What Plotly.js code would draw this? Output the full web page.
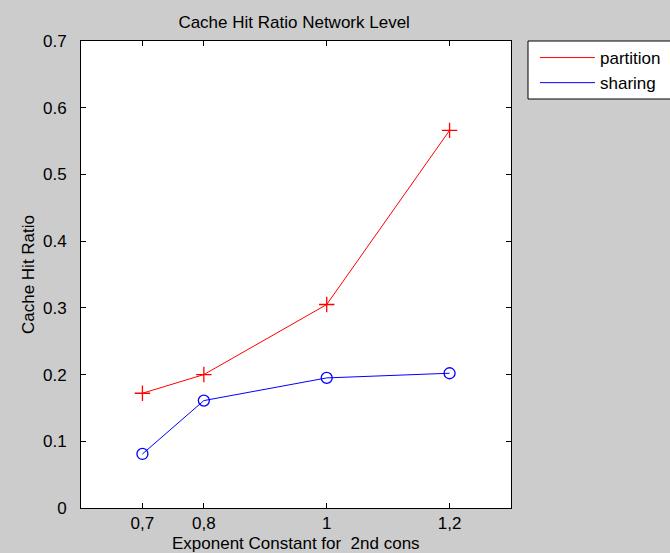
<!DOCTYPE html>
<html>
<head>
<meta charset="utf-8">
<script src="https://cdn.plot.ly/plotly-3.0.1.min.js"></script>
<style>html,body{margin:0;padding:0;background:#cccccc;overflow:hidden;}#chart{width:670px;height:553px;}</style>
</head>
<body>
<div id="chart"></div>
<script>
const xValues = [0.7, 0.8, 1.0, 1.2];
const xTickLabels = ["0,7", "0,8", "1", "1,2"];
const partition = [0.172, 0.200, 0.305, 0.566];
const sharing = [0.081, 0.161, 0.195, 0.202];
const yTicks = [0, 0.1, 0.2, 0.3, 0.4, 0.5, 0.6, 0.7];
const xTitle = 'Exponent Constant for\u00a0 2nd cons';

const traces = [
  {x: xValues, y: partition, name: 'partition', mode: 'lines', line: {color: '#ff0000', width: 1}, showlegend: true},
  {x: xValues, y: sharing, name: 'sharing', mode: 'lines', line: {color: '#0000ff', width: 1}, showlegend: true},
  {x: xValues, y: partition, mode: 'markers', marker: {symbol: 'cross-thin-open', size: 11, color: '#ff0000', line: {color: '#ff0000', width: 1.3}}, showlegend: false},
  {x: xValues, y: sharing, mode: 'markers', marker: {symbol: 'circle-open', size: 11, color: '#0000ff', line: {color: '#0000ff', width: 1.3}}, showlegend: false}
];

const font = {family: 'Liberation Sans, Arial, sans-serif', size: 17, color: '#000'};
const layout = {
  width: 670, height: 553,
  paper_bgcolor: '#cccccc', plot_bgcolor: '#ffffff',
  margin: {l: 81, r: 159, t: 41, b: 45, autoexpand: false},
  font: font,
  title: {text: 'Cache Hit Ratio Network Level', font: {family: font.family, size: 17, color: '#000'}, x: 0.439, xanchor: 'center', y: 0.961, yanchor: 'middle'},
  xaxis: {
    range: [0.6, 1.3], tickvals: xValues, ticktext: xTickLabels,
    ticks: 'inside', ticklen: 5, tickcolor: '#000', showline: true, linecolor: '#000', linewidth: 1, mirror: 'ticks',
    showgrid: false, zeroline: false, tickfont: font
  },
  yaxis: {
    range: [0, 0.7], tickvals: yTicks, ticktext: yTicks.map(v => v === 0 ? '0' : v.toFixed(1)),
    ticks: 'inside', ticklen: 5, tickcolor: '#000', showline: true, linecolor: '#000', linewidth: 1, mirror: 'ticks',
    showgrid: false, zeroline: false, tickfont: font, ticklabelstandoff: 10,
    title: {text: 'Cache Hit Ratio', font: font, standoff: 4}
  },
  annotations: [
    {text: xTitle, xref: 'paper', yref: 'paper', x: 0.5, y: -(543 - 508) / 467, xanchor: 'center', yanchor: 'middle',
     showarrow: false, font: font}
  ],
  shapes: [
    {type: 'rect', xref: 'paper', yref: 'paper', x0: (528 - 81) / 430, x1: (675 - 81) / 430, y0: (508 - 99) / 467, y1: (508 - 41) / 467,
     fillcolor: '#ffffff', line: {color: '#000', width: 1}, layer: 'below'}
  ],
  legend: {
    x: (535 - 81) / 430, xanchor: 'left', y: (508 - 40) / 467, yanchor: 'top', bgcolor: 'rgba(0,0,0,0)', borderwidth: 0,
    font: font, itemwidth: 55, tracegroupgap: 0
  },
  showlegend: true
};
Plotly.newPlot('chart', traces, layout, {displayModeBar: false, staticPlot: true});
</script>
</body>
</html>
